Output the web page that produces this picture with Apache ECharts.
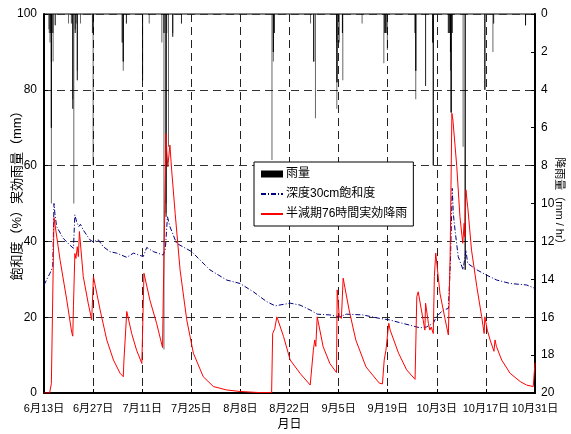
<!DOCTYPE html>
<html>
<head>
<meta charset="utf-8">
<script src="https://cdn.jsdelivr.net/npm/echarts@6/dist/echarts.min.js"></script>
<style>
html,body{margin:0;padding:0;background:#fff;}
#c{width:571px;height:434px;}
</style>
</head>
<body>
<div id="c"></div>
<script>
// X tick labels (every 14 days from 6/13)
const xTickLabels = ['6月13日','6月27日','7月11日','7月25日','8月8日','8月22日','9月5日','9月19日','10月3日','10月17日','10月31日'];

// Rainfall (mm/h): day offset from 6/13, value
const rainDays = [
  1.4,1.5,1.7,1.8,1.9,2.1,2.1,2.1,2.1,2.1,2.4,2.6,2.6,3.2,3.2,
  7.0,7.8,8.0,8.2,8.2,8.2,8.5,8.9,8.9,8.9,9.2,9.5,9.5,9.5,10.4,
  13.8,14.0,14.0,14.0,
  22.3,22.3,22.6,22.6,22.6,22.6,23.5,23.5,
  28.1,28.1,28.1,30.0,
  33.6,34.2,34.1,34.4,34.8,34.8,34.8,34.8,35.0,35.5,36.7,36.7,36.7,39.2,39.2,
  65.0,65.4,65.4,65.4,65.4,65.7,65.7,
  76.0,76.9,76.9,76.9,77.4,
  83.4,83.5,83.5,83.5,83.6,83.9,84.2,85.1,85.1,85.1,85.2,90.7,
  96.9,97.2,97.2,97.2,97.5,97.5,97.5,97.9,
  105.8,105.8,106.0,106.0,106.0,106.0,108.8,108.8,
  110.8,110.8,111.0,111.0,111.0,111.0,
  115.3,115.3,115.6,115.6,115.9,115.9,115.9,115.9,116.1,116.1,116.1,116.1,116.4,116.4,
  119.5,120.1,120.1,120.1,
  125.7,125.7,125.7,128.0,128.2,128.2,137.3,137.3,137.3
];
const rainMm = [
  0.8,1.0,1.5,1.0,1.0,10.0,6.0,6.0,6.0,2.5,1.0,1.0,2.5,0.6,0.6,
  0.5,0.5,0.5,5.0,5.0,4.5,10.0,1.0,1.0,0.8,0.5,3.5,3.5,3.0,0.5,
  1.0,8.0,1.0,1.0,
  1.5,1.5,2.5,2.5,2.5,3.0,0.5,0.5,
  3.5,3.5,3.5,0.5,
  1.5,17.7,1.0,1.0,10.7,10.7,10.5,10.0,1.0,7.0,1.2,1.2,1.0,0.5,0.5,
  7.7,2.0,2.0,2.0,2.5,1.0,1.0,
  0.5,2.5,2.5,2.5,5.5,
  1.5,5.0,3.6,3.6,3.6,1.5,1.5,1.0,1.0,1.0,3.5,0.5,
  2.6,1.0,1.0,1.0,1.0,1.0,1.0,1.9,
  1.0,1.0,4.5,3.0,3.0,3.0,3.8,3.8,
  1.5,1.5,8.0,8.0,8.0,1.5,
  1.0,1.0,1.0,1.0,2.0,2.0,2.0,3.0,5.2,5.2,5.2,5.2,1.0,1.0,
  7.0,13.5,13.5,13.5,
  4.0,4.0,4.0,2.0,0.5,0.5,0.6,0.6,0.6
];

// Saturation at 30cm depth (%)
const satDays = [0,1.7,2.5,2.85,3.1,3.6,5.5,7.4,8.4,8.8,9.3,9.9,10.4,11.2,13.1,14.0,15.5,16.9,18.8,20.7,23.6,25.5,28.3,29.3,31.2,34.0,34.6,35.2,35.9,37.8,42.1,47.3,52.1,55.9,59.7,63.5,65.9,70.2,73.0,75.9,77.9,81.5,84.4,86.2,90.9,95.6,98.5,101.3,104.3,107.2,109.0,111.0,111.9,113.8,115.3,115.9,116.4,116.7,117.2,118.1,119.5,120.3,120.8,123.4,126.2,129.1,132.9,137.6,140];
const satVals = [28.5,31.6,33.3,50.0,47.4,43.9,40.8,39.0,38.2,47.0,45.2,43.9,44.5,43.0,40.4,39.9,40.4,38.6,37.3,36.9,35.8,36.9,36.0,38.4,37.3,36.4,38.0,46.5,43.9,39.5,37.3,32.5,29.8,28.9,26.7,24.1,23.0,23.7,23.2,21.9,20.8,20.6,20.1,20.8,20.6,19.7,19.3,18.6,17.9,17.2,17.4,18.4,20.1,21.9,22.3,35.1,54.0,47.4,43.0,36.0,32.5,37.7,34.2,32.5,31.1,29.8,28.9,28.5,27.6];

// Effective rainfall (mm)
const effDays = [0,1.6,2.1,2.5,2.85,4.6,6.5,7.9,8.2,8.4,8.8,9.1,9.5,9.8,10.1,11.2,12.6,13.6,13.9,14.1,16.0,17.9,19.8,21.7,22.6,22.8,23.6,25.0,26.4,27.9,28.5,30.2,32.1,33.8,34.0,34.4,34.8,35.0,35.3,35.9,36.4,37.4,38.8,40.7,42.6,45.4,48.3,52.1,55.9,61.6,64.9,65.2,65.8,66.4,68.3,70.2,73.0,75.9,76.3,76.8,77.2,77.5,77.9,79.6,81.5,83.4,83.6,84.2,84.8,85.3,87.0,88.9,91.8,95.6,96.5,97.0,97.5,98.3,98.7,101.1,103.4,105.8,106.3,106.7,108.1,108.6,108.8,109.6,110.0,110.4,111.0,111.3,111.7,112.9,114.4,115.3,115.8,116.3,116.6,117.7,118.6,119.4,119.8,120.0,120.3,120.9,121.9,123.4,124.8,125.5,125.7,126.4,127.2,128.3,128.6,129.0,130.5,132.9,135.8,137.6,138.0,139.5,139.8,140];
const effVals = [0,0,2.5,3.0,46.3,35.0,24.5,16.0,15.0,23.0,36.8,35.5,38.6,36.0,42.6,30.7,23.7,19.3,18.9,30.7,21.9,14.0,8.7,5.2,4.3,8.7,21.5,15.7,11.3,7.8,31.6,24.5,18.4,12.0,24.5,24.5,68.5,64.0,59.7,65.4,58.8,47.4,32.5,19.3,10.5,4.3,1.7,0.8,0.4,0.1,0.1,15.7,17.0,20.1,14.9,8.7,5.2,2.1,2.5,11.3,14.0,12.3,20.1,12.2,7.8,5.4,27.2,20.1,19.7,30.3,21.9,14.0,6.9,2.6,2.4,8.7,11.3,18.4,16.6,10.5,6.1,3.6,25.4,26.7,19.3,16.6,23.7,18.4,16.6,17.4,15.7,30.7,36.9,26.3,19.3,15.3,36.0,73.8,72.0,59.7,46.5,39.5,44.8,41.2,53.6,48.3,37.7,28.1,20.1,15.7,20.1,16.6,14.0,11.0,14.0,12.3,8.7,5.2,3.0,2.1,2.5,1.7,1.5,8.0];

const FONT = "'Liberation Sans','Noto Sans CJK JP',sans-serif";
const pair = (a, b) => a.map((d, i) => [d, b[i]]);
const noSym = {color: 'rgba(0,0,0,0)', borderWidth: 0, borderColor: 'rgba(0,0,0,0)'};

const chart = echarts.init(document.getElementById('c'), null, {renderer: 'canvas'});
chart.setOption({
  animation: false,
  backgroundColor: '#fff',
  textStyle: {fontFamily: FONT},
  grid: {left: 44, right: 36, top: 14, bottom: 41, containLabel: false, outerBoundsMode: 'none',
    show: true, borderColor: '#000', borderWidth: 1, backgroundColor: 'transparent'},
  legend: {
    orient: 'vertical', left: 254, top: 162,
    backgroundColor: '#fff', borderColor: '#000', borderWidth: 1,
    padding: [6, 6, 6, 6], itemGap: 8, itemWidth: 22, itemHeight: 7,
    textStyle: {fontFamily: FONT, fontSize: 12, color: '#000', padding: [0, 0, 0, -2]},
    data: [
      {name: '雨量', icon: 'rect', itemStyle: {color: '#000', opacity: 1}},
      {name: '深度30cm飽和度', itemStyle: noSym},
      {name: '半減期76時間実効降雨', itemStyle: noSym}
    ]
  },
  xAxis: {
    type: 'value', min: 0, max: 140, interval: 14,
    name: '月日', nameLocation: 'middle', nameGap: 26, nameMoveOverlap: false,
    nameTextStyle: {fontFamily: FONT, fontSize: 12, color: '#000'},
    axisLine: {lineStyle: {color: '#000', width: 2}},
    axisTick: {inside: true, length: 4, lineStyle: {color: '#000'}},
    axisLabel: {fontFamily: FONT, fontSize: 11, color: '#000', margin: 10, hideOverlap: false,
      formatter: v => xTickLabels[Math.round(v / 14)] || ''},
    splitLine: {show: true, lineStyle: {color: '#222', type: [8, 5], width: 1}}
  },
  yAxis: [
    {
      type: 'value', min: 0, max: 100, interval: 20,
      name: '飽和度（%）実効雨量（mm）', nameLocation: 'middle', nameGap: 20, nameRotate: 90, nameMoveOverlap: false,
      nameTextStyle: {fontFamily: FONT, fontSize: 13, color: '#000', padding: [0, 0, 0, 22]},
      axisLine: {show: true, lineStyle: {color: '#000', width: 2}},
      axisTick: {show: true, inside: true, length: 4, lineStyle: {color: '#000'}},
      axisLabel: {fontFamily: FONT, fontSize: 12, color: '#000', margin: 7},
      splitLine: {show: true, lineStyle: {color: '#333', type: [8, 5], width: 1}}
    },
    {
      type: 'value', min: 0, max: 20, interval: 2, inverse: true, position: 'right',
      name: '降雨量（mm / hr）', nameLocation: 'middle', nameGap: 19, nameRotate: -90, nameMoveOverlap: false,
      nameTextStyle: {fontFamily: FONT, fontSize: 11, color: '#000'},
      axisLine: {show: true, lineStyle: {color: '#000', width: 2}},
      axisTick: {show: true, inside: true, length: 4, lineStyle: {color: '#000'}},
      axisLabel: {fontFamily: FONT, fontSize: 12, color: '#000', margin: 6},
      splitLine: {show: false}
    }
  ],
  series: [
    {
      name: '雨量', type: 'bar', yAxisIndex: 1, barWidth: 1,
      itemStyle: {color: 'rgba(0,0,0,0.6)'},
      data: pair(rainDays, rainMm)
    },
    {
      name: '深度30cm飽和度', type: 'line', symbol: 'none', yAxisIndex: 0,
      lineStyle: {color: '#000080', width: 1, type: [5, 2, 1, 2]},
      itemStyle: {color: '#000080'},
      data: pair(satDays, satVals)
    },
    {
      name: '半減期76時間実効降雨', type: 'line', symbol: 'none', yAxisIndex: 0,
      lineStyle: {color: '#ff0000', width: 1},
      itemStyle: {color: '#ff0000'},
      data: pair(effDays, effVals)
    }
  ]
});
</script>
</body>
</html>
